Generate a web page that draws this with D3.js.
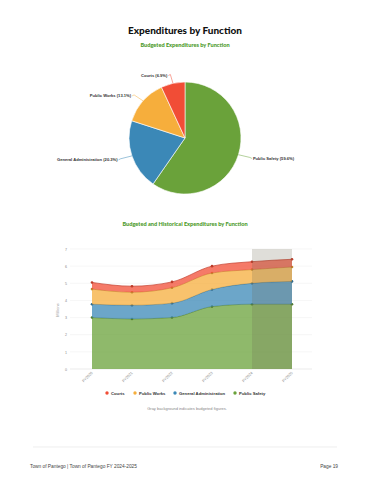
<!DOCTYPE html>
<html>
<head>
<meta charset="utf-8">
<script src="https://cdn.jsdelivr.net/npm/d3@7"></script>
<style>
  body { margin: 0; background: #fff; }
  svg { display: block; font-family: "Liberation Sans", Arial, sans-serif; }
</style>
</head>
<body>
<svg id="page" width="370" height="480"></svg>
<script>
// pie data (budget year)
const pieNames = ["Public Safety", "General Administration", "Public Works", "Courts"];
const piePct = [59.6, 20.3, 13.1, 6.9];
const pieColors = ["#6aa23a", "#3b88b7", "#f6ae3c", "#f14d36"];

// stacked area data, millions
const years = ["FY2020", "FY2021", "FY2022", "FY2023", "FY2024", "FY2025"];
const publicSafety = [3.00, 2.92, 3.00, 3.64, 3.78, 3.78];
const generalAdmin = [0.78, 0.80, 0.84, 1.00, 1.22, 1.33];
const publicWorks = [0.88, 0.76, 0.90, 0.96, 0.80, 0.84];
const courts = [0.39, 0.35, 0.34, 0.40, 0.46, 0.45];
const budgetYears = ["FY2024", "FY2025"];
const yTicks = [0, 1, 2, 3, 4, 5, 6, 7];

const legendNames = ["Courts", "Public Works", "General Administration", "Public Safety"];
const legendColors = ["#f14d36", "#f6ae3c", "#3b88b7", "#6aa23a"];

let svg = d3.select("#page");

// titles
svg.append("text")
  .attr("x", 185).attr("y", 34)
  .attr("text-anchor", "middle")
  .style("font-family", "Lato, sans-serif")
  .style("font-weight", 900)
  .style("font-size", "10px")
  .attr("fill", "#111")
  .text("Expenditures by Function");

svg.append("text")
  .attr("x", 185).attr("y", 47)
  .attr("text-anchor", "middle")
  .style("font-family", "Lato, sans-serif")
  .style("font-weight", 900)
  .style("font-size", "5.6px")
  .attr("fill", "#4c9a2a")
  .text("Budgeted Expenditures by Function");

// ---- pie ----
let cx = 185, cy = 138, r = 56;
let pieData = d3.pie().sort(null).value((d) => d.v)(
  pieNames.map((n, i) => ({ name: n, v: piePct[i], color: pieColors[i] }))
);
let arc = d3.arc().innerRadius(0).outerRadius(r);
let pieG = svg.append("g").attr("transform", "translate(" + cx + "," + cy + ")");

pieG.selectAll("path")
  .data(pieData)
  .enter()
  .append("path")
  .attr("d", arc)
  .attr("fill", (d) => d.data.color)
  .attr("stroke", "#fff")
  .attr("stroke-width", 0.6);

pieData.forEach((d) => {
  let a = (d.startAngle + d.endAngle) / 2;
  let p1 = [Math.sin(a) * r, -Math.cos(a) * r];
  let p2 = [Math.sin(a) * (r + 12), -Math.cos(a) * (r + 9)];
  let left = Math.sin(a) < 0;
  pieG.append("path")
    .attr("d", "M" + p1 + "L" + p2 + "L" + [p2[0] + (left ? -2 : 2), p2[1] + 1])
    .attr("fill", "none")
    .attr("stroke", d.data.color)
    .attr("stroke-width", 0.5);
  pieG.append("text")
    .attr("x", p2[0] + (left ? -3 : 3))
    .attr("y", p2[1] + 2.5)
    .attr("text-anchor", left ? "end" : "start")
    .style("font-size", "4.1px")
    .style("font-weight", 700)
    .attr("fill", "#333")
    .text(d.data.name + " (" + d.data.v.toFixed(1) + "%)");
});

// ---- stacked area ----
svg.append("text")
  .attr("x", 185).attr("y", 226)
  .attr("text-anchor", "middle")
  .style("font-family", "Lato, sans-serif")
  .style("font-weight", 900)
  .style("font-size", "5.6px")
  .attr("fill", "#4c9a2a")
  .text("Budgeted and Historical Expenditures by Function");

let table = years.map((y, i) => ({
  year: y,
  ps: publicSafety[i],
  ga: generalAdmin[i],
  pw: publicWorks[i],
  ct: courts[i],
}));
let keys = ["ps", "ga", "pw", "ct"];
let keyColors = { ps: "#6aa23a", ga: "#3b88b7", pw: "#f6ae3c", ct: "#f14d36" };
let series = d3.stack().keys(keys)(table);

let xScale = d3.scalePoint().domain(years).range([72, 312]).padding(0.5);
let yScale = d3.scaleLinear().domain([0, 7]).range([369, 249]);

// grid
svg.append("g")
  .selectAll("line")
  .data(yTicks)
  .enter()
  .append("line")
  .attr("x1", 70).attr("x2", 312)
  .attr("y1", (d) => yScale(d)).attr("y2", (d) => yScale(d))
  .attr("stroke", (d) => (d == 0 ? "#ddd" : "#f0f0f0"))
  .attr("stroke-width", 0.6);

let yAxis = svg.append("g")
  .attr("transform", "translate(67,0)")
  .call(d3.axisLeft(yScale).tickValues(yTicks).tickFormat(d3.format("d")).tickSize(0).tickPadding(0));
yAxis.select(".domain").remove();
yAxis.selectAll("text").style("font-size", "3.6px").attr("fill", "#888");

svg.append("text")
  .attr("transform", "translate(59,310) rotate(-90)")
  .attr("text-anchor", "middle")
  .style("font-size", "4px")
  .attr("fill", "#999")
  .text("Millions");

let area = d3.area()
  .curve(d3.curveMonotoneX)
  .x((d) => xScale(d.data.year))
  .y0((d) => yScale(d[0]))
  .y1((d) => yScale(d[1]));
let topLine = d3.line()
  .curve(d3.curveMonotoneX)
  .x((d) => xScale(d.data.year))
  .y((d) => yScale(d[1]));

series.forEach((s) => {
  svg.append("path")
    .datum(s)
    .attr("d", area)
    .attr("fill", keyColors[s.key])
    .attr("fill-opacity", 0.75);
  svg.append("path")
    .datum(s)
    .attr("d", topLine)
    .attr("fill", "none")
    .attr("stroke", d3.color(keyColors[s.key]).darker(0.6))
    .attr("stroke-width", 0.7);
  svg.append("g")
    .selectAll("circle")
    .data(s)
    .enter()
    .append("circle")
    .attr("cx", (d) => xScale(d.data.year))
    .attr("cy", (d) => yScale(d[1]))
    .attr("r", 1.3)
    .attr("fill", d3.color(keyColors[s.key]).darker(0.7));
});

// budget band over the budgeted years
svg.append("rect")
  .attr("x", xScale(budgetYears[0]))
  .attr("width", xScale(budgetYears[budgetYears.length - 1]) - xScale(budgetYears[0]))
  .attr("y", yScale(7))
  .attr("height", yScale(0) - yScale(7))
  .attr("fill", "#6e6a50")
  .attr("fill-opacity", 0.22);

// x labels
let xAxis = svg.append("g")
  .attr("transform", "translate(0,371)")
  .call(d3.axisBottom(xScale).tickSize(0).tickPadding(0));
xAxis.select(".domain").remove();
xAxis.selectAll("text")
  .attr("transform", "rotate(-45)")
  .attr("text-anchor", "end")
  .attr("dy", "0.5em")
  .attr("dx", "-0.3em")
  .style("font-size", "3.8px")
  .attr("fill", "#888");

// legend
let legendX = [107, 135, 175, 235];
let legend = svg.append("g");
legendNames.forEach((n, i) => {
  legend.append("circle")
    .attr("cx", legendX[i]).attr("cy", 393)
    .attr("r", 1.7)
    .attr("fill", legendColors[i]);
  legend.append("text")
    .attr("x", legendX[i] + 4).attr("y", 394.5)
    .style("font-size", "4.2px")
    .style("font-weight", 700)
    .attr("fill", "#333")
    .text(n);
});

svg.append("text")
  .attr("x", 187).attr("y", 410)
  .attr("text-anchor", "middle")
  .style("font-size", "4px")
  .attr("fill", "#888")
  .text("Gray background indicates budgeted figures.");

// footer
svg.append("line")
  .attr("x1", 33).attr("x2", 337)
  .attr("y1", 447).attr("y2", 447)
  .attr("stroke", "#e3e3e3")
  .attr("stroke-width", 0.6);

svg.append("text")
  .attr("x", 30).attr("y", 468)
  .style("font-size", "4.8px")
  .attr("fill", "#444")
  .text("Town of Pantego | Town of Pantego FY 2024-2025");

svg.append("text")
  .attr("x", 338).attr("y", 468)
  .attr("text-anchor", "end")
  .style("font-size", "4.8px")
  .attr("fill", "#444")
  .text("Page 19");
</script>
</body>
</html>
